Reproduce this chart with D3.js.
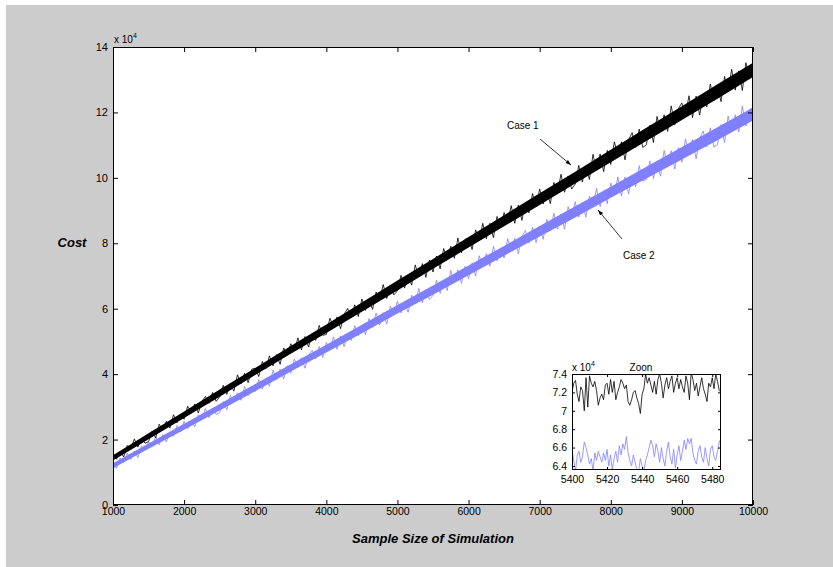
<!DOCTYPE html>
<html>
<head>
<meta charset="utf-8">
<script src="https://cdn.jsdelivr.net/npm/d3@7"></script>
<style>
  html, body { margin: 0; padding: 0; background: #ffffff; }
  svg { display: block; font-family: "Liberation Sans", Arial, sans-serif; }
  .tick text { fill: #000; }
  .axlabel { font-weight: bold; font-style: italic; font-size: 13px; }
</style>
</head>
<body>
<svg id="chart" width="833" height="567"></svg>
<script>
// main axis ticks
const xTicks = [1000, 2000, 3000, 4000, 5000, 6000, 7000, 8000, 9000, 10000];
const yTicks = [0, 2, 4, 6, 8, 10, 12, 14];

// solid core of each band, read every 500 samples (units of 1e4)
const envX = [1000, 1500, 2000, 2500, 3000, 3500, 4000, 4500, 5000, 5500,
  6000, 6500, 7000, 7500, 8000, 8500, 9000, 9500, 10000];
const case1Low = [1.36, 2.01, 2.66, 3.31, 3.97, 4.62, 5.26, 5.91, 6.56, 7.22,
  7.87, 8.52, 9.17, 9.83, 10.48, 11.13, 11.77, 12.42, 13.08];
const case1High = [1.52, 2.19, 2.86, 3.53, 4.19, 4.86, 5.52, 6.19, 6.86, 7.52,
  8.19, 8.86, 9.53, 10.19, 10.86, 11.53, 12.19, 12.86, 13.52];
const case2Low = [1.12, 1.72, 2.30, 2.89, 3.48, 4.08, 4.66, 5.25, 5.85, 6.43,
  7.02, 7.62, 8.21, 8.79, 9.39, 9.98, 10.56, 11.15, 11.75];
const case2High = [1.28, 1.88, 2.48, 3.09, 3.70, 4.30, 4.90, 5.51, 6.11, 6.71,
  7.32, 7.92, 8.53, 9.13, 9.73, 10.34, 10.94, 11.55, 12.15];

// noisy trace read every 50 samples, 1000..10000 (units of 1e4)
const case1Trace = [
  1.60, 1.40, 1.63, 1.47, 1.82, 1.70, 2.02, 1.77, 2.05, 1.89,
  1.94, 2.26, 2.05, 2.47, 2.28, 2.56, 2.35, 2.76, 2.51, 2.78,
  2.62, 3.02, 2.82, 3.09, 2.81, 3.17, 3.32, 3.11, 3.44, 3.17,
  3.30, 3.66, 3.38, 3.71, 3.48, 3.98, 3.70, 4.03, 3.74, 4.15,
  4.18, 3.93, 4.39, 4.17, 4.56, 4.25, 4.60, 4.30, 4.80, 4.59,
  4.93, 4.71, 5.11, 4.74, 5.15, 4.83, 5.23, 5.03, 5.49, 5.19,
  5.21, 5.71, 5.44, 5.75, 5.39, 5.83, 6.01, 5.72, 6.12, 5.76,
  6.30, 5.95, 6.29, 5.98, 6.51, 6.27, 6.74, 6.31, 6.71, 6.42,
  6.55, 7.02, 6.63, 7.03, 6.72, 7.34, 6.97, 7.38, 6.96, 7.49,
  7.12, 7.61, 7.22, 7.84, 7.51, 7.91, 7.54, 8.16, 7.71, 8.12,
  8.16, 7.81, 8.41, 8.08, 8.61, 8.14, 8.61, 8.17, 8.82, 8.52,
  8.94, 8.64, 9.15, 8.61, 9.17, 8.70, 9.23, 8.93, 9.52, 9.11,
  9.66, 9.20, 9.61, 9.21, 9.86, 9.54, 10.11, 9.56, 10.05, 9.66,
  9.81, 10.38, 9.87, 10.36, 9.95, 10.72, 10.23, 10.73, 10.19, 10.84,
  10.41, 11.10, 10.68, 11.10, 10.55, 11.16, 11.38, 10.93, 11.49, 10.93,
  11.01, 11.61, 11.08, 11.88, 11.43, 11.93, 11.42, 12.20, 11.62, 12.11,
  12.29, 11.91, 12.51, 11.84, 12.50, 11.92, 12.55, 12.17, 12.87, 12.36,
  12.81, 12.33, 13.10, 12.64, 13.32, 12.68, 13.27, 12.67, 13.52, 13.09,
  13.45
];
const case2Trace = [
  1.27, 1.12, 1.44, 1.30, 1.59, 1.39, 1.65, 1.45, 1.81, 1.68,
  1.93, 1.80, 2.09, 1.84, 2.15, 1.93, 2.23, 2.10, 2.43, 2.23,
  2.56, 2.33, 2.58, 2.39, 2.76, 2.61, 2.95, 2.67, 2.96, 2.77,
  2.82, 3.16, 2.91, 3.35, 3.15, 3.43, 3.20, 3.62, 3.34, 3.63,
  3.47, 3.83, 3.54, 3.86, 3.63, 4.12, 3.83, 4.15, 3.85, 4.26,
  4.03, 4.46, 4.22, 4.50, 4.18, 4.58, 4.73, 4.47, 4.84, 4.51,
  4.97, 4.75, 5.14, 4.76, 5.17, 4.84, 5.24, 5.03, 5.48, 5.18,
  5.49, 5.21, 5.70, 5.43, 5.87, 5.50, 5.88, 5.53, 6.08, 5.83,
  6.23, 5.87, 6.20, 5.89, 6.41, 6.16, 6.62, 6.18, 6.58, 6.28,
  6.41, 6.87, 6.47, 6.87, 6.55, 7.17, 6.79, 7.19, 6.77, 7.29,
  6.92, 7.40, 7.00, 7.62, 7.28, 7.68, 7.30, 7.91, 7.46, 7.86,
  7.55, 8.14, 7.78, 8.15, 7.68, 8.20, 8.39, 8.01, 8.49, 8.02,
  8.51, 8.12, 8.73, 8.38, 8.92, 8.43, 8.90, 8.43, 9.12, 8.78,
  9.27, 8.80, 9.20, 8.80, 9.44, 9.12, 9.68, 9.12, 9.61, 9.21,
  9.84, 9.49, 10.03, 9.44, 10.03, 9.51, 10.07, 9.73, 10.37, 9.90,
  9.95, 10.52, 9.98, 10.49, 10.05, 10.84, 10.33, 10.83, 10.27, 10.92,
  10.48, 11.19, 10.73, 11.17, 10.58, 11.21, 11.43, 10.95, 11.53, 10.94,
  11.01, 11.63, 11.08, 11.89, 11.42, 11.93, 11.40, 12.19, 11.58, 12.09,
  12.15
];
const traceStart = 1000;
const traceStep = 50;

// zoom inset: samples 5400..5485 (units of 1e4)
const zoomStart = 5400;
const zoomXTicks = [5400, 5420, 5440, 5460, 5480];
const zoomYTicks = [6.4, 6.6, 6.8, 7, 7.2, 7.4];
const case1Zoom = [
  7.20, 7.30, 7.33, 7.18, 7.10, 7.26, 7.22, 7.00, 7.36, 7.04,
  7.38, 7.30, 7.26, 7.32, 7.22, 7.06, 7.14, 7.18, 7.12, 7.28,
  7.30, 7.18, 7.34, 7.20, 7.32, 7.12, 7.20, 7.26, 7.34, 7.30,
  7.24, 7.28, 7.10, 7.06, 7.12, 7.20, 7.22, 7.14, 7.08, 6.97,
  7.18, 7.24, 7.40, 7.30, 7.36, 7.28, 7.20, 7.32, 7.18, 7.34,
  7.40, 7.30, 7.14, 7.28, 7.36, 7.24, 7.32, 7.38, 7.20, 7.30,
  7.36, 7.24, 7.34, 7.26, 7.20, 7.38, 7.30, 7.12, 7.42, 7.34,
  7.22, 7.30, 7.16, 7.26, 7.36, 7.24, 7.18, 7.10, 7.30, 7.26,
  7.36, 7.24, 7.40, 7.32, 7.22, 7.20
];
const case2Zoom = [
  6.58, 6.46, 6.34, 6.52, 6.56, 6.44, 6.50, 6.66, 6.60, 6.52,
  6.42, 6.48, 6.34, 6.54, 6.46, 6.56, 6.50, 6.44, 6.54, 6.46,
  6.58, 6.40, 6.52, 6.36, 6.48, 6.56, 6.44, 6.62, 6.52, 6.64,
  6.58, 6.72, 6.54, 6.46, 6.40, 6.52, 6.44, 6.36, 6.34, 6.48,
  6.40, 6.34, 6.46, 6.52, 6.60, 6.68, 6.62, 6.50, 6.64, 6.56,
  6.44, 6.60, 6.48, 6.40, 6.56, 6.66, 6.50, 6.42, 6.58, 6.38,
  6.52, 6.62, 6.46, 6.56, 6.68, 6.58, 6.70, 6.64, 6.70, 6.54,
  6.46, 6.42, 6.56, 6.62, 6.50, 6.44, 6.60, 6.48, 6.40, 6.58,
  6.62, 6.50, 6.46, 6.56, 6.66, 6.70
];

const black = "#000000";
const blue = "#8080ff";

const svg = d3.select("#chart");

// figure background
svg.append("rect")
  .attr("x", 6).attr("y", 5)
  .attr("width", 827).attr("height", 562)
  .attr("fill", "#cccccc");

// main axes
const x = d3.scaleLinear().domain([1000, 10000]).range([113, 753]);
const y = d3.scaleLinear().domain([0, 14]).range([505, 47]);

svg.append("rect")
  .attr("x", 113).attr("y", 47)
  .attr("width", 640).attr("height", 458)
  .attr("fill", "#ffffff");

const defs = svg.append("defs");
defs.append("clipPath").attr("id", "mainClip")
  .append("rect").attr("x", 113).attr("y", 47).attr("width", 640).attr("height", 458);

const plot = svg.append("g").attr("clip-path", "url(#mainClip)");

function band(low, high) {
  return d3.area()
    .x((d, i) => x(envX[i]))
    .y0((d, i) => y(low[i]))
    .y1((d, i) => y(high[i]))(low);
}

function trace(values) {
  return d3.line()
    .x((d, i) => x(traceStart + i * traceStep))
    .y(d => y(d))(values);
}

// case 2 first, case 1 on top
plot.append("path").attr("d", band(case2Low, case2High)).attr("fill", blue);
plot.append("path").attr("d", trace(case2Trace))
  .attr("fill", "none").attr("stroke", blue).attr("stroke-width", 0.8);
plot.append("path").attr("d", band(case1Low, case1High)).attr("fill", black);
plot.append("path").attr("d", trace(case1Trace))
  .attr("fill", "none").attr("stroke", black).attr("stroke-width", 0.8);

function styleAxis(g, size) {
  g.select(".domain").remove();
  g.selectAll(".tick line").attr("stroke", "#000");
  g.selectAll(".tick text").attr("font-size", size);
  g.attr("font-family", null);
}

const fmt = d => String(d);

svg.append("g").attr("transform", "translate(0,505)")
  .call(d3.axisBottom(x).tickValues(xTicks).tickFormat(fmt).tickSize(-5).tickPadding(3))
  .call(g => styleAxis(g, "10.5px"));
svg.append("g").attr("transform", "translate(0,47)")
  .call(d3.axisTop(x).tickValues(xTicks).tickFormat("").tickSize(-5))
  .call(g => styleAxis(g, "10.5px"));
svg.append("g").attr("transform", "translate(113,0)")
  .call(d3.axisLeft(y).tickValues(yTicks).tickFormat(fmt).tickSize(-5).tickPadding(5))
  .call(g => styleAxis(g, "11px"));
svg.append("g").attr("transform", "translate(753,0)")
  .call(d3.axisRight(y).tickValues(yTicks).tickFormat("").tickSize(-5))
  .call(g => styleAxis(g, "11px"));

svg.append("rect")
  .attr("x", 113.5).attr("y", 47.5)
  .attr("width", 639).attr("height", 457)
  .attr("fill", "none").attr("stroke", "#000").attr("stroke-width", 1);

// exponent label
const exp = svg.append("text").attr("x", 114).attr("y", 43).attr("font-size", "10px");
exp.append("tspan").text("x 10");
exp.append("tspan").attr("dy", -5).attr("font-size", "7px").text("4");

// axis titles
svg.append("text").attr("class", "axlabel")
  .attr("x", 72).attr("y", 247).attr("text-anchor", "middle").text("Cost");
svg.append("text").attr("class", "axlabel")
  .attr("x", 433).attr("y", 543).attr("text-anchor", "middle").text("Sample Size of Simulation");

// annotations
defs.append("marker")
  .attr("id", "arrow")
  .attr("viewBox", "0 0 10 10")
  .attr("refX", 10).attr("refY", 5)
  .attr("markerWidth", 7).attr("markerHeight", 7)
  .attr("orient", "auto")
  .append("path").attr("d", "M0,1.5L10,5L0,8.5Z").attr("fill", "#000");

svg.append("text").attr("x", 507).attr("y", 129).attr("font-size", "10px").text("Case 1");
svg.append("line")
  .attr("x1", 540).attr("y1", 139).attr("x2", 571).attr("y2", 165)
  .attr("stroke", "#000").attr("stroke-width", 0.8).attr("marker-end", "url(#arrow)");

svg.append("text").attr("x", 623).attr("y", 259).attr("font-size", "10px").text("Case 2");
svg.append("line")
  .attr("x1", 622).attr("y1", 239).attr("x2", 598).attr("y2", 210)
  .attr("stroke", "#000").attr("stroke-width", 0.8).attr("marker-end", "url(#arrow)");

// inset
const xi = d3.scaleLinear().domain([5400, 5485]).range([572, 721]);
const yi = d3.scaleLinear().domain([6.356, 7.4]).range([470, 374]);

svg.append("rect")
  .attr("x", 572).attr("y", 374)
  .attr("width", 149).attr("height", 96)
  .attr("fill", "#ffffff");

defs.append("clipPath").attr("id", "zoomClip")
  .append("rect").attr("x", 572).attr("y", 374).attr("width", 149).attr("height", 96);

const inset = svg.append("g").attr("clip-path", "url(#zoomClip)");
const zline = d3.line().x((d, i) => xi(zoomStart + i)).y(d => yi(d));
inset.append("path").attr("d", zline(case1Zoom))
  .attr("fill", "none").attr("stroke", black).attr("stroke-width", 0.8);
inset.append("path").attr("d", zline(case2Zoom))
  .attr("fill", "none").attr("stroke", blue).attr("stroke-width", 0.8);

svg.append("g").attr("transform", "translate(0,470)")
  .call(d3.axisBottom(xi).tickValues(zoomXTicks).tickFormat(fmt).tickSize(-3).tickPadding(6))
  .call(g => styleAxis(g, "10.5px"));
svg.append("g").attr("transform", "translate(0,374)")
  .call(d3.axisTop(xi).tickValues(zoomXTicks).tickFormat("").tickSize(-3))
  .call(g => styleAxis(g, "10.5px"));
svg.append("g").attr("transform", "translate(572,0)")
  .call(d3.axisLeft(yi).tickValues(zoomYTicks).tickFormat(fmt).tickSize(-3).tickPadding(5))
  .call(g => styleAxis(g, "10.5px"));
svg.append("g").attr("transform", "translate(721,0)")
  .call(d3.axisRight(yi).tickValues(zoomYTicks).tickFormat("").tickSize(-3))
  .call(g => styleAxis(g, "10.5px"));

svg.append("rect")
  .attr("x", 572.5).attr("y", 374.5)
  .attr("width", 148).attr("height", 95)
  .attr("fill", "none").attr("stroke", "#000").attr("stroke-width", 1);

const exp2 = svg.append("text").attr("x", 572).attr("y", 371).attr("font-size", "10px");
exp2.append("tspan").text("x 10");
exp2.append("tspan").attr("dy", -5).attr("font-size", "7px").text("4");

svg.append("text").attr("x", 641).attr("y", 371).attr("text-anchor", "middle")
  .attr("font-size", "10px").text("Zoon");
</script>
</body>
</html>
